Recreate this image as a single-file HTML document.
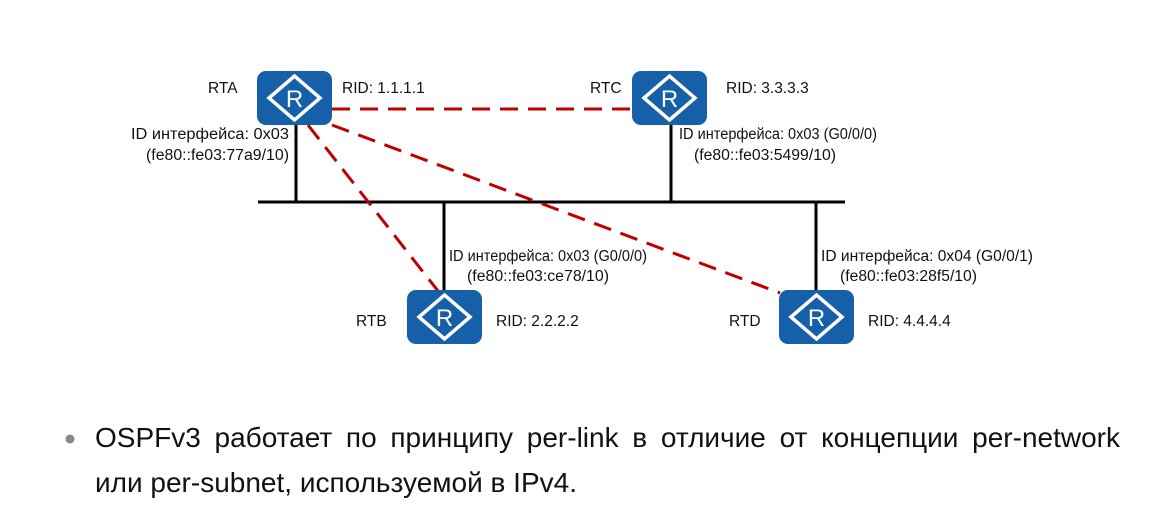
<!DOCTYPE html>
<html><head><meta charset="utf-8"><style>
html,body{margin:0;padding:0;background:#fff;width:1165px;height:522px;overflow:hidden;position:relative}
svg{display:block;position:absolute;left:0;top:0}
text{font-family:"Liberation Sans",sans-serif;fill:#111}
.b{position:absolute;left:95px;width:1025px;font-family:"Liberation Sans",sans-serif;font-size:28px;color:#111;text-align:justify;text-align-last:justify;line-height:30px;white-space:nowrap}
</style></head><body>
<svg width="1165" height="522" viewBox="0 0 1165 522">
<defs>
<g id="r">
<rect x="0" y="0" width="75" height="54" rx="9" fill="#1560a8"/>
<polygon points="12,27 37.5,5 63,27 37.5,49" fill="none" stroke="#fff" stroke-width="3.5"/>
<text x="37.5" y="36" font-size="24" text-anchor="middle" style="fill:#fff">R</text>
</g>
</defs>
<line x1="258" y1="202" x2="845" y2="202" stroke="#000" stroke-width="3"/>
<line x1="296" y1="125" x2="296" y2="202" stroke="#000" stroke-width="3"/>
<line x1="671" y1="125" x2="671" y2="202" stroke="#000" stroke-width="3"/>
<line x1="444" y1="202" x2="444" y2="291" stroke="#000" stroke-width="3"/>
<line x1="816" y1="202" x2="816" y2="291" stroke="#000" stroke-width="3"/>
<g stroke="#c00000" stroke-width="3" stroke-dasharray="18,10" fill="none">
<line x1="332" y1="109" x2="632" y2="109"/>
<line x1="308" y1="125" x2="438" y2="291"/>
<line x1="332" y1="125" x2="780" y2="293"/>
</g>
<use href="#r" x="257" y="71"/>
<use href="#r" x="632" y="71"/>
<use href="#r" x="407" y="290"/>
<use href="#r" x="779" y="290"/>
<g font-size="15.5">
<text x="208" y="93">RTA</text>
<text x="342" y="93">RID: 1.1.1.1</text>
<text x="590" y="93">RTC</text>
<text x="726" y="93">RID: 3.3.3.3</text>
<text x="131" y="139" textLength="158" lengthAdjust="spacingAndGlyphs">ID интерфейса: 0x03</text>
<text x="146" y="160" textLength="143" lengthAdjust="spacingAndGlyphs">(fe80::fe03:77a9/10)</text>
<text x="679" y="139" textLength="198" lengthAdjust="spacingAndGlyphs">ID интерфейса: 0x03 (G0/0/0)</text>
<text x="694" y="160" textLength="142" lengthAdjust="spacingAndGlyphs">(fe80::fe03:5499/10)</text>
<text x="449" y="261" textLength="198" lengthAdjust="spacingAndGlyphs">ID интерфейса: 0x03 (G0/0/0)</text>
<text x="467" y="281" textLength="142" lengthAdjust="spacingAndGlyphs">(fe80::fe03:ce78/10)</text>
<text x="821" y="261" textLength="212" lengthAdjust="spacingAndGlyphs">ID интерфейса: 0x04 (G0/0/1)</text>
<text x="840" y="281" textLength="137" lengthAdjust="spacingAndGlyphs">(fe80::fe03:28f5/10)</text>
<text x="356" y="326">RTB</text>
<text x="496" y="326">RID: 2.2.2.2</text>
<text x="729" y="326">RTD</text>
<text x="868" y="326">RID: 4.4.4.4</text>
</g>
<circle cx="70" cy="439" r="4.5" fill="#888"/>
</svg>
<div class="b" style="top:423px">OSPFv3 работает по принципу per-link в отличие от концепции per-network</div>
<div class="b" style="top:468px;text-align-last:left;width:auto">или per-subnet, используемой в IPv4.</div>
</body></html>
